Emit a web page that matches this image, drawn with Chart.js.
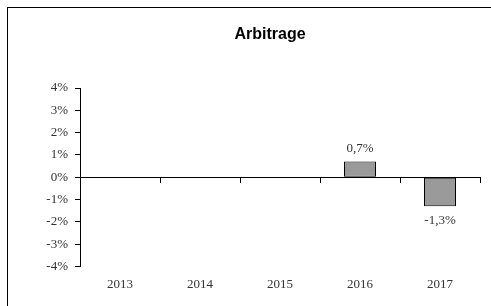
<!DOCTYPE html>
<html>
<head>
<meta charset="utf-8">
<script src="https://cdn.jsdelivr.net/npm/chart.js@4/dist/chart.umd.min.js"></script>
<style>
  html, body { margin: 0; padding: 0; background: #fff; }
  #frame { position: absolute; left: 7px; top: 7px; width: 520px; height: 320px; border-left: 1px solid #000; border-top: 1px solid #000; }
  #wrap { position: absolute; left: 0; top: 0; width: 491px; height: 306px; }
</style>
</head>
<body>
<div id="frame"></div>
<div id="wrap"><canvas id="myChart"></canvas></div>
<script>
const years = ['2013', '2014', '2015', '2016', '2017'];
const arbitrage = [null, null, null, 0.7, -1.3];
const yMin = -4;
const yMax = 4;
const chartTitle = 'Arbitrage';

const fmt = v => String(v).replace('.', ',') + '%';

// title sits a bit left of the plot centre, like the original
const titlePlugin = {
  id: 'titlePlugin',
  afterDraw(chart) {
    const ctx = chart.ctx;
    const a = chart.chartArea;
    ctx.save();
    ctx.font = 'bold 16px "Liberation Sans", Arial, sans-serif';
    ctx.fillStyle = '#000';
    ctx.textAlign = 'center';
    ctx.textBaseline = 'middle';
    ctx.fillText(chartTitle, (a.left + a.right) / 2 - 10, 35);
    ctx.restore();
  }
};

// draws value labels above / below the bars
const barLabels = {
  id: 'barLabels',
  afterDatasetsDraw(chart) {
    const ctx = chart.ctx;
    const meta = chart.getDatasetMeta(0);
    ctx.save();
    ctx.font = '13px "Liberation Serif"';
    ctx.fillStyle = '#333';
    ctx.textAlign = 'center';
    meta.data.forEach((bar, i) => {
      const v = arbitrage[i];
      if (v === null) return;
      if (v >= 0) {
        ctx.textBaseline = 'bottom';
        ctx.fillText(fmt(v), bar.x, bar.y - 7);
      } else {
        ctx.textBaseline = 'top';
        ctx.fillText(fmt(v), bar.x, bar.y + 8);
      }
    });
    ctx.restore();
  }
};

const ctx = document.getElementById('myChart');
const chart = new Chart(ctx, {
  type: 'bar',
  data: {
    labels: years,
    datasets: [{
      label: 'Arbitrage',
      data: arbitrage,
      backgroundColor: '#9a9a9a',
      borderColor: '#000',
      borderWidth: 1,
      borderSkipped: false,
      barPercentage: 0.4,
      categoryPercentage: 1,
      xAxisID: 'x'
    }]
  },
  options: {
    responsive: true,
    maintainAspectRatio: false,
    animation: false,
    layout: { padding: { left: 0, right: 11, top: 88, bottom: 4 } },
    plugins: {
      legend: { display: false },
      tooltip: { enabled: false },
      title: { display: false }
    },
    scales: {
      x: {
        position: { y: 0 },
        grid: { drawOnChartArea: false, drawTicks: true, tickLength: 5, color: '#000' },
        border: { display: true, color: '#000', width: 1 },
        ticks: { display: false }
      },
      x2: {
        type: 'category',
        position: 'bottom',
        grid: { display: false, drawTicks: false },
        border: { display: false },
        ticks: {
          color: '#333',
          padding: 10,
          font: { family: '"Liberation Serif", serif', size: 13 }
        }
      },
      y: {
        min: yMin,
        max: yMax,
        afterFit(scale) { scale.width = 80; },
        grid: { drawOnChartArea: false, drawTicks: true, tickLength: 5, color: '#000' },
        border: { display: true, color: '#000', width: 1 },
        ticks: {
          stepSize: 1,
          color: '#333',
          padding: 7,
          font: { family: '"Liberation Serif", serif', size: 13 },
          callback: v => v + '%'
        }
      }
    }
  },
  plugins: [titlePlugin, barLabels]
});
</script>
</body>
</html>
